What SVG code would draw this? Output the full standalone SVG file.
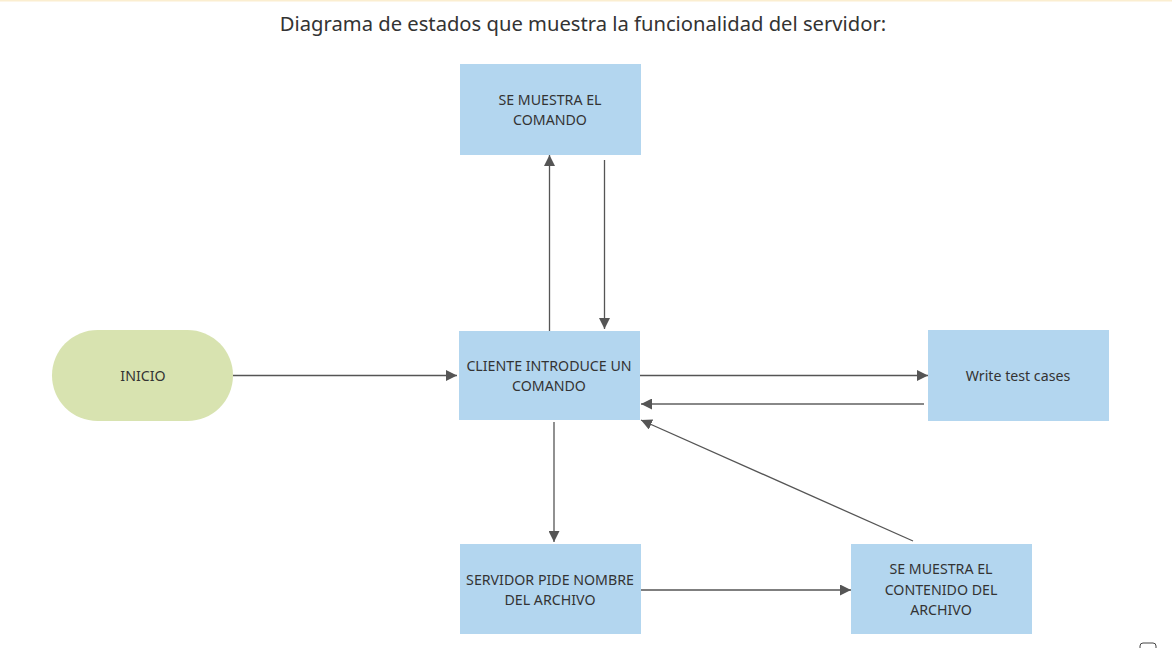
<svg xmlns="http://www.w3.org/2000/svg" width="1172" height="648" viewBox="0 0 1172 648">
<style>
.box{fill:#b3d6ef;}
.start{fill:#d8e3b0;}
.t{font-family:"Noto Sans","Open Sans",sans-serif;font-size:14.2px;fill:#333;text-anchor:middle;}
.title{font-family:"Noto Sans","Open Sans",sans-serif;font-size:20.2px;fill:#333;text-anchor:middle;}
.c{stroke:#555;stroke-width:1.3;fill:none;marker-end:url(#ah);}
.c2{stroke:#888;stroke-width:2;fill:none;marker-end:url(#ah2);}
</style>
<defs>
<marker id="ah" viewBox="0 0 10 10" refX="10" refY="5" markerWidth="11" markerHeight="11" markerUnits="userSpaceOnUse" orient="auto"><path d="M0,0 L10,5 L0,10 z" fill="#555"/></marker>
<marker id="ah2" viewBox="0 0 10 10" refX="10" refY="5" markerWidth="11" markerHeight="11" markerUnits="userSpaceOnUse" orient="auto"><path d="M0,0 L10,5 L0,10 z" fill="#555"/></marker>
</defs>
<rect x="0" y="0" width="1172" height="648" fill="#fff"/>
<rect x="0" y="0" width="1172" height="1.5" fill="#fbeed0"/>
<text class="title" x="583" y="31">Diagrama de estados que muestra la funcionalidad del servidor:</text>
<g id="connectors">
<line class="c" x1="233" y1="375.5" x2="457" y2="375.5"/>
<line class="c" x1="549.5" y1="331" x2="549.5" y2="155"/>
<line class="c" x1="604.5" y1="160" x2="604.5" y2="329"/>
<line class="c" x1="640" y1="375.5" x2="928" y2="375.5"/>
<line class="c2" x1="924" y1="404" x2="641" y2="404"/>
<line class="c" x1="554" y1="422" x2="554" y2="542"/>
<line class="c" x1="641" y1="590" x2="851" y2="590"/>
<line class="c" x1="913" y1="541" x2="641" y2="420"/>
</g>
<g id="inicio">
<rect class="start" x="52" y="330" width="181" height="91" rx="45.5" ry="45.5"/>
<text class="t" x="143" y="381">INICIO</text>
</g>
<g id="se-muestra-comando">
<rect class="box" x="460" y="64" width="181" height="91"/>
<text class="t" x="550" y="105">SE MUESTRA EL</text>
<text class="t" x="550" y="125">COMANDO</text>
</g>
<g id="cliente">
<rect class="box" x="459" y="331" width="181" height="89"/>
<text class="t" x="549" y="371">CLIENTE INTRODUCE UN</text>
<text class="t" x="549" y="391">COMANDO</text>
</g>
<g id="write-test">
<rect class="box" x="928" y="330" width="181" height="91"/>
<text class="t" x="1018" y="381">Write test cases</text>
</g>
<g id="servidor">
<rect class="box" x="460" y="544" width="181" height="90"/>
<text class="t" x="550" y="585">SERVIDOR PIDE NOMBRE</text>
<text class="t" x="550" y="605">DEL ARCHIVO</text>
</g>
<g id="contenido">
<rect class="box" x="851" y="544" width="181" height="90"/>
<text class="t" x="941" y="574">SE MUESTRA EL</text>
<text class="t" x="941" y="595">CONTENIDO DEL</text>
<text class="t" x="941" y="615">ARCHIVO</text>
</g>
<rect x="1140" y="643" width="16" height="12" rx="3" fill="none" stroke="#444" stroke-width="1"/>
</svg>
